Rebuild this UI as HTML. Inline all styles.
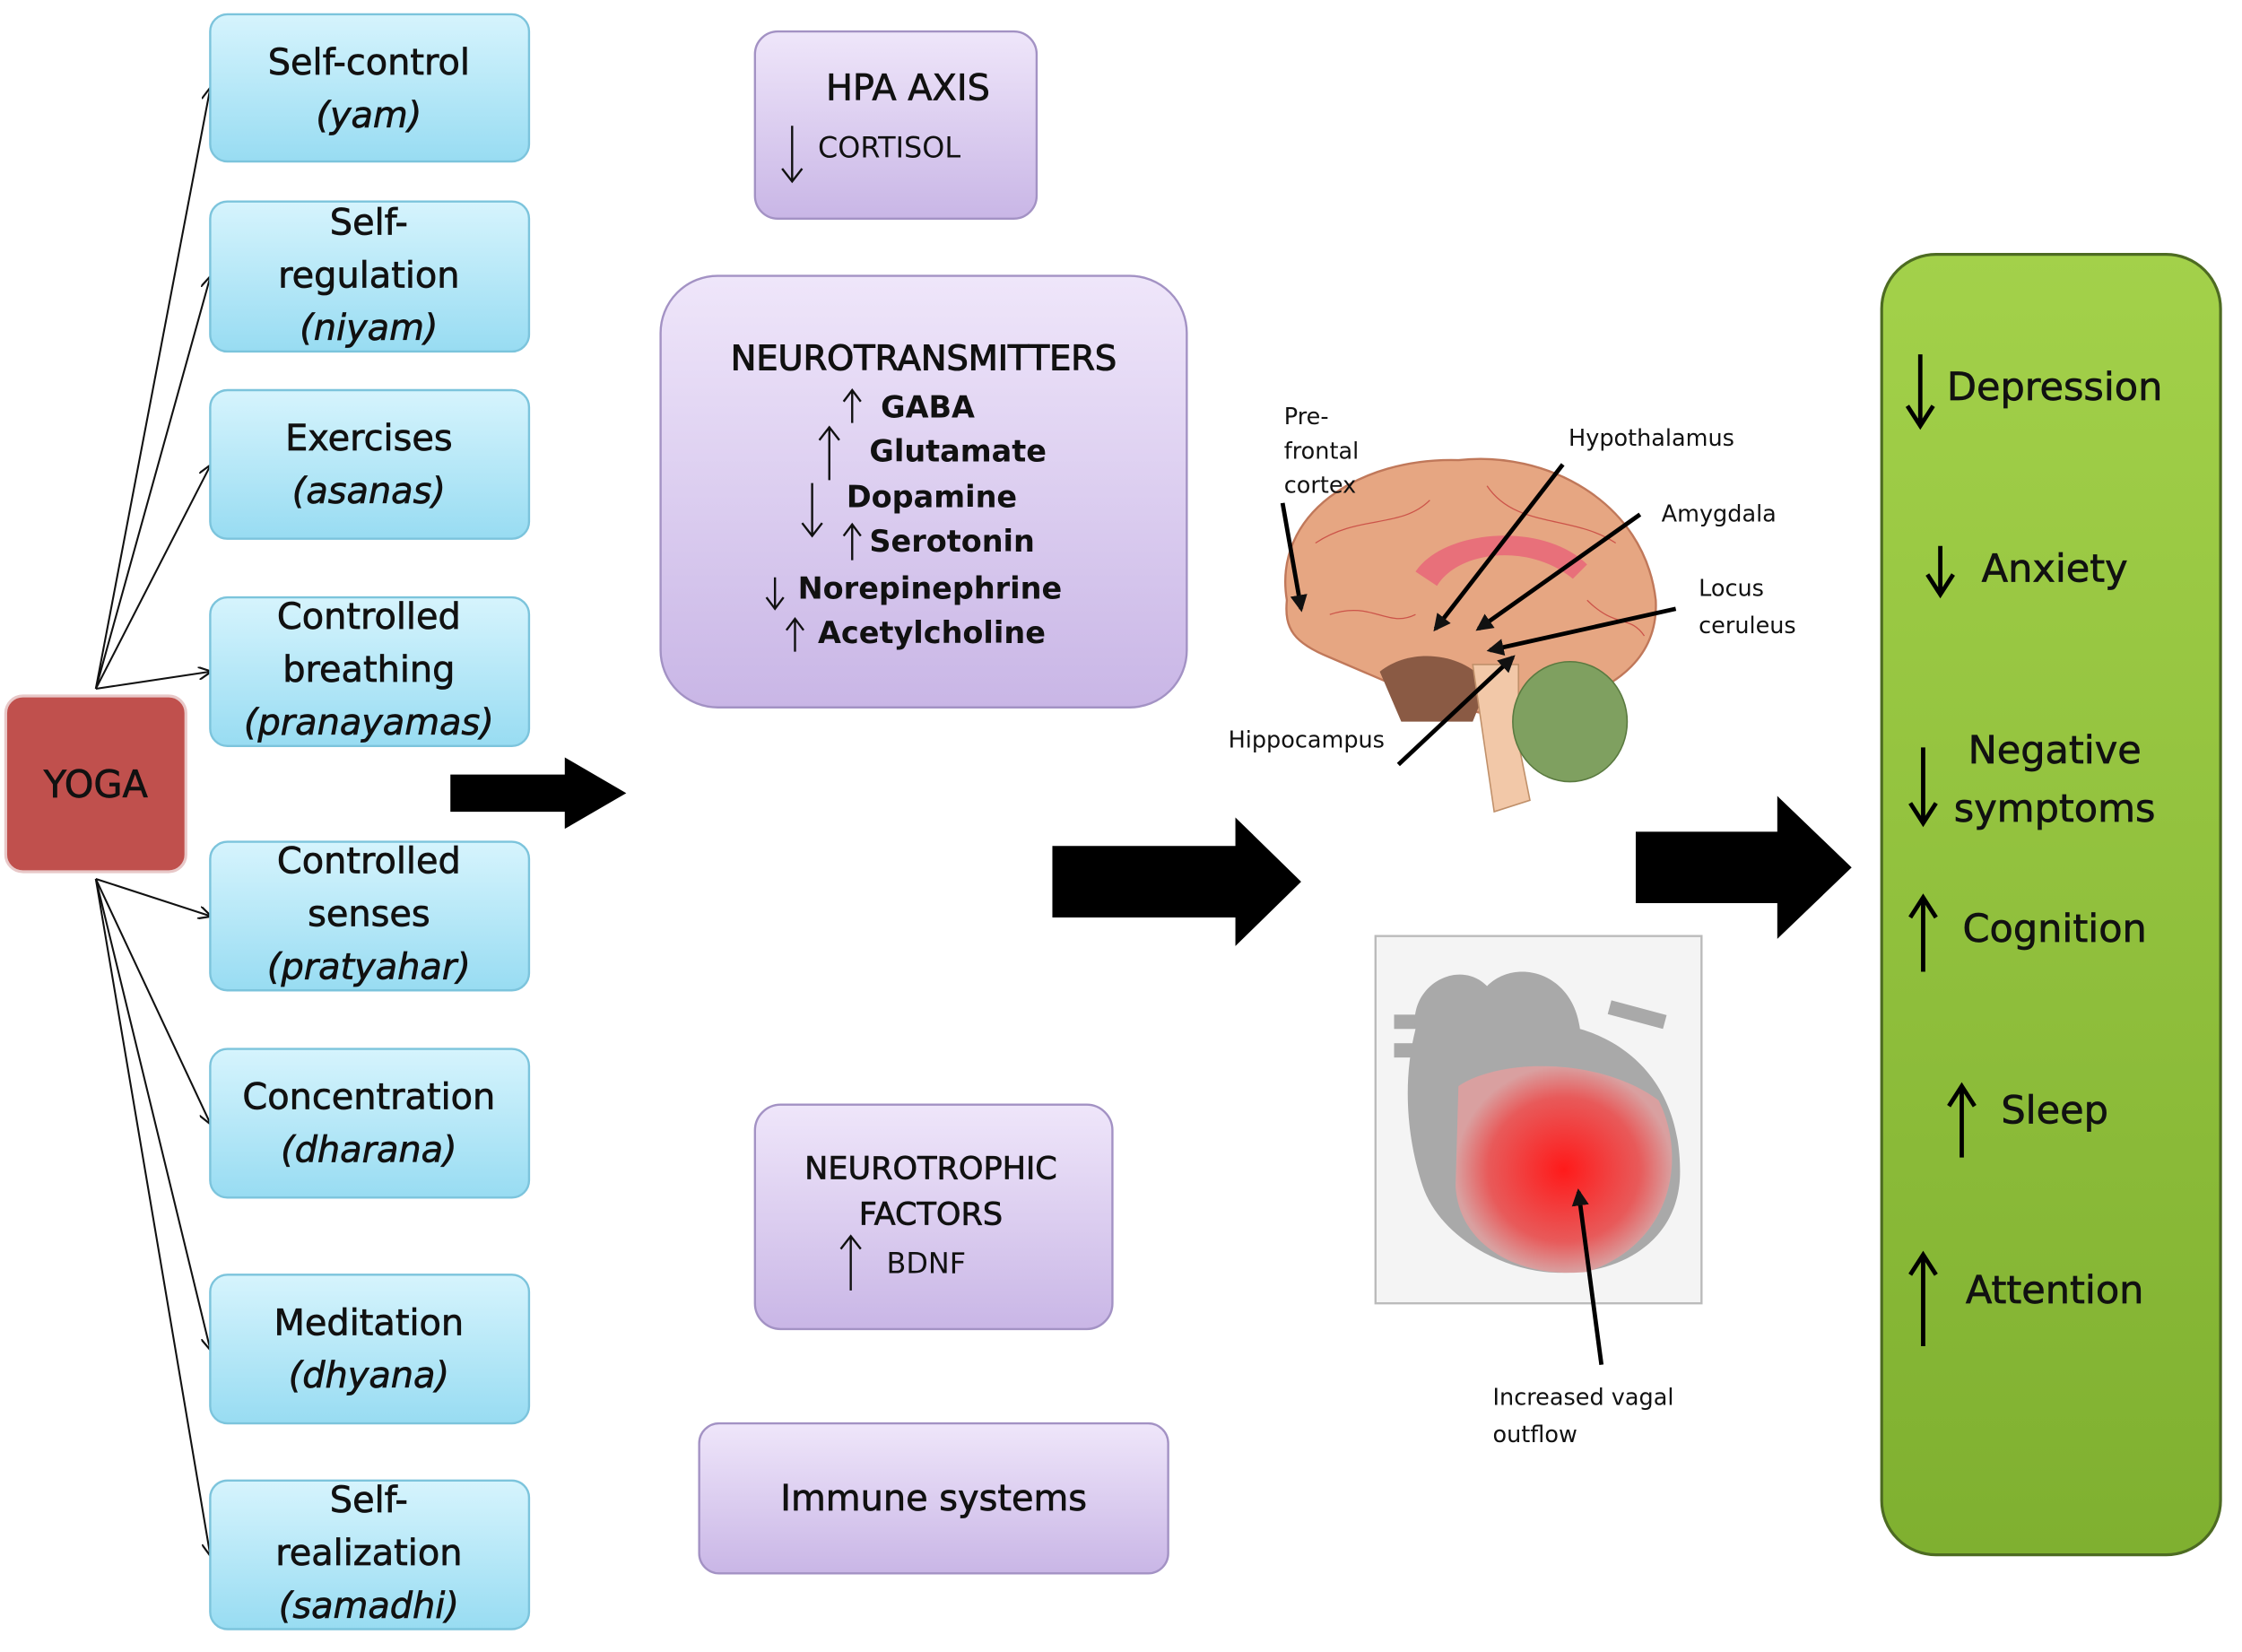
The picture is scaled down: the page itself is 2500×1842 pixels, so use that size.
<!DOCTYPE html>
<html><head><meta charset="utf-8"><style>
html,body{margin:0;padding:0;background:#fff;}
svg{display:block;}
text{font-family:"DejaVu Sans","Liberation Sans",sans-serif;fill:#111;}
.w{stroke:#111;stroke-width:0.45;}
</style></head><body>
<svg width="2500" height="1842" viewBox="0 0 1568 1156" preserveAspectRatio="none" xmlns="http://www.w3.org/2000/svg">
<defs>
<linearGradient id="bl" x1="0" y1="0" x2="0" y2="1"><stop offset="0" stop-color="#d6f4fd"/><stop offset="1" stop-color="#98dcf2"/></linearGradient>
<linearGradient id="pu" x1="0" y1="0" x2="0" y2="1"><stop offset="0" stop-color="#efe6fa"/><stop offset="1" stop-color="#c9b6e6"/></linearGradient>
<linearGradient id="gr" x1="0" y1="0" x2="0" y2="1"><stop offset="0" stop-color="#a3d14a"/><stop offset="1" stop-color="#7fb030"/></linearGradient>
<radialGradient id="rd" cx="0.5" cy="0.5" r="0.5"><stop offset="0" stop-color="#ff1a1a"/><stop offset="0.7" stop-color="#e85a5a"/><stop offset="1" stop-color="#d9a0a0"/></radialGradient>
<marker id="ah" viewBox="0 0 10 10" refX="9" refY="5" markerWidth="7" markerHeight="7" orient="auto"><path d="M0,0 L10,5 L0,10" fill="none" stroke="#111" stroke-width="1.5"/></marker>
<marker id="ah2" viewBox="0 0 10 10" refX="8" refY="5" markerWidth="4" markerHeight="4" orient="auto"><path d="M0,0 L10,5 L0,10 z" fill="#111"/></marker>
</defs>

<g stroke="#111" stroke-width="1.3" fill="none" marker-end="url(#ah)">
<line x1="67" y1="482" x2="147" y2="62"/>
<line x1="67" y1="482" x2="147" y2="194"/>
<line x1="67" y1="482" x2="147" y2="326"/>
<line x1="67" y1="482" x2="147" y2="470"/>
<line x1="67" y1="615" x2="147" y2="641"/>
<line x1="67" y1="615" x2="147" y2="786"/>
<line x1="67" y1="615" x2="147" y2="944"/>
<line x1="67" y1="615" x2="147" y2="1088"/>
</g>

<rect x="4" y="487" width="126" height="123" rx="12" fill="#c0504d" stroke="#e8c8c8" stroke-width="2"/>
<text class="w" x="67" y="558" font-size="26" text-anchor="middle">YOGA</text>

<g stroke="#7cc4dc" stroke-width="1.5" fill="url(#bl)">
<rect x="147" y="10" width="223" height="103" rx="12"/>
<rect x="147" y="141" width="223" height="105" rx="12"/>
<rect x="147" y="273" width="223" height="104" rx="12"/>
<rect x="147" y="418" width="223" height="104" rx="12"/>
<rect x="147" y="589" width="223" height="104" rx="12"/>
<rect x="147" y="734" width="223" height="104" rx="12"/>
<rect x="147" y="892" width="223" height="104" rx="12"/>
<rect x="147" y="1036" width="223" height="104" rx="12"/>
</g>
<g font-size="25" text-anchor="middle" class="w">
<text x="258" y="52">Self-control</text><text x="258" y="89" font-style="italic">(yam)</text>
<text x="258" y="164">Self-</text><text x="258" y="201">regulation</text><text x="258" y="238" font-style="italic">(niyam)</text>
<text x="258" y="315">Exercises</text><text x="258" y="352" font-style="italic">(asanas)</text>
<text x="258" y="440">Controlled</text><text x="258" y="477">breathing</text><text x="258" y="514" font-style="italic">(pranayamas)</text>
<text x="258" y="611">Controlled</text><text x="258" y="648">senses</text><text x="258" y="685" font-style="italic">(pratyahar)</text>
<text x="258" y="776">Concentration</text><text x="258" y="813" font-style="italic">(dharana)</text>
<text x="258" y="934">Meditation</text><text x="258" y="971" font-style="italic">(dhyana)</text>
<text x="258" y="1058">Self-</text><text x="258" y="1095">realization</text><text x="258" y="1132" font-style="italic">(samadhi)</text>
</g>

<g stroke="#a392c4" stroke-width="1.5" fill="url(#pu)">
<rect x="528" y="22" width="197" height="131" rx="16"/>
<rect x="462" y="193" width="368" height="302" rx="40"/>
<rect x="528" y="773" width="250" height="157" rx="18"/>
<rect x="489" y="996" width="328" height="105" rx="14"/>
</g>
<text class="w" x="635" y="70" font-size="25" text-anchor="middle">HPA AXIS</text>
<text x="572" y="110" font-size="20" fill="#333">CORTISOL</text>
<g stroke="#111" stroke-width="1.5" fill="none">
<path d="M554,88 V126 M547,118 L554,127 L561,118"/>
</g>
<text x="646" y="259" font-size="24" text-anchor="middle" style="stroke:#111;stroke-width:0.7">NEUROTRANSMITTERS</text>
<g font-size="21" style="font-weight:600">
<text x="616" y="292">GABA</text>
<text x="608" y="323">Glutamate</text>
<text x="592" y="355">Dopamine</text>
<text x="608" y="386">Serotonin</text>
<text x="558" y="419">Norepinephrine</text>
<text x="572" y="450">Acetylcholine</text>
</g>
<g stroke="#111" stroke-width="1.5" fill="none">
<path d="M596,296 V274 M590,281 L596,273 L602,281"/>
<path d="M580,336 V300 M573,308 L580,299 L587,308"/>
<path d="M568,338 V374 M561,366 L568,375 L575,366"/>
<path d="M596,392 V368 M590,375 L596,367 L602,375"/>
<path d="M542,404 V425 M536,418 L542,426 L548,418"/>
<path d="M556,456 V434 M550,441 L556,433 L562,441"/>
</g>
<text class="w" x="651" y="825" font-size="22" text-anchor="middle">NEUROTROPHIC</text>
<text class="w" x="651" y="857" font-size="22" text-anchor="middle">FACTORS</text>
<text x="620" y="891" font-size="20" fill="#333">BDNF</text>
<path d="M595,903 V866 M588,874 L595,865 L602,874" stroke="#111" stroke-width="1.5" fill="none"/>
<text class="w" x="653" y="1057" font-size="25" text-anchor="middle">Immune systems</text>

<g fill="#000">
<path d="M315,542 H395 V530 L438,555 L395,580 V568 H315 z"/>
<path d="M736,592 H864 V572 L910,617 L864,662 V642 H736 z"/>
<path d="M1144,582 H1243 V557 L1295,607 L1243,657 V632 H1144 z"/>
</g>

<!-- brain -->
<g>
<path d="M900,420 C890,360 950,320 1020,322 C1080,315 1150,350 1158,420 C1160,460 1130,480 1100,490 L1040,500 L1000,490 L930,460 C905,450 898,440 900,420 z" fill="#e6a682" stroke="#c0785a" stroke-width="1.5"/>
<path d="M965,470 C990,450 1030,460 1040,480 L1030,505 L980,505 z" fill="#8a5a44"/>
<path d="M1030,465 L1062,465 L1062,520 L1070,560 L1045,568 L1038,520 z" fill="#f2c8a8" stroke="#c0906a"/>
<ellipse cx="1098" cy="505" rx="40" ry="42" fill="#7fa060" stroke="#5a7a40"/>
<path d="M990,400 C1010,370 1080,365 1110,395 L1100,405 C1070,380 1020,385 1005,410 z" fill="#e8707a"/>
<g stroke="#c03030" stroke-width="0.8" fill="none" opacity="0.7">
<path d="M920,380 C950,360 980,370 1000,350"/><path d="M1040,340 C1060,370 1100,360 1130,380"/><path d="M930,430 C960,420 970,440 990,430"/><path d="M1110,420 C1130,440 1140,430 1150,445"/>
</g>
</g>

<!-- heart -->
<rect x="962" y="655" width="228" height="257" fill="#f4f4f4" stroke="#bbb" stroke-width="1.5"/>
<g fill="#a9a9a9">
<rect x="975" y="730" width="25" height="10"/><rect x="975" y="710" width="30" height="10"/>
<rect x="1125" y="705" width="40" height="10" transform="rotate(15 1145 710)"/>
</g>
<path d="M990,720 C985,690 1020,670 1040,690 C1060,670 1100,680 1105,720 C1140,730 1175,760 1175,820 C1175,870 1130,895 1080,890 C1040,885 1005,860 995,830 C985,800 980,760 990,720 z" fill="#a9a9a9"/>
<path d="M1020,760 C1050,740 1120,740 1160,770 C1180,810 1170,870 1110,890 C1060,895 1020,870 1018,830 z" fill="url(#rd)"/>

<g stroke="#000" stroke-width="3" fill="none" marker-end="url(#ah2)">
<line x1="897" y1="352" x2="910" y2="426"/>
<line x1="1093" y1="325" x2="1004" y2="440"/>
<line x1="1147" y1="360" x2="1034" y2="440"/>
<line x1="1172" y1="426" x2="1042" y2="455"/>
<line x1="978" y1="535" x2="1058" y2="460"/>
<line x1="1120" y1="955" x2="1104" y2="834"/>
</g>
<g font-size="16" fill="#222">
<text x="898" y="297">Pre-</text><text x="898" y="321">frontal</text><text x="898" y="345">cortex</text>
<text x="1097" y="312">Hypothalamus</text>
<text x="1162" y="365">Amygdala</text>
<text x="1188" y="417">Locus</text><text x="1188" y="443">ceruleus</text>
<text x="859" y="523">Hippocampus</text>
<text x="1044" y="983">Increased vagal</text><text x="1044" y="1009">outflow</text>
</g>

<rect x="1316" y="178" width="237" height="910" rx="38" fill="url(#gr)" stroke="#4d6b22" stroke-width="2"/>
<g font-size="27" text-anchor="middle" class="w">
<text x="1437" y="280">Depression</text>
<text x="1437" y="407">Anxiety</text>
<text x="1437" y="534">Negative</text>
<text x="1437" y="575">symptoms</text>
<text x="1437" y="659">Cognition</text>
<text x="1437" y="786">Sleep</text>
<text x="1437" y="912">Attention</text>
</g>
<g stroke="#000" stroke-width="3" fill="none">
<path d="M1343,248 V296 M1334,284 L1343,298 L1352,284"/>
<path d="M1357,382 V414 M1348,402 L1357,416 L1366,402"/>
<path d="M1345,523 V574 M1336,562 L1345,576 L1354,562"/>
<path d="M1345,680 V630 M1336,642 L1345,628 L1354,642"/>
<path d="M1372,810 V762 M1363,774 L1372,760 L1381,774"/>
<path d="M1345,942 V880 M1336,892 L1345,878 L1354,892"/>
</g>
</svg>
</body></html>
